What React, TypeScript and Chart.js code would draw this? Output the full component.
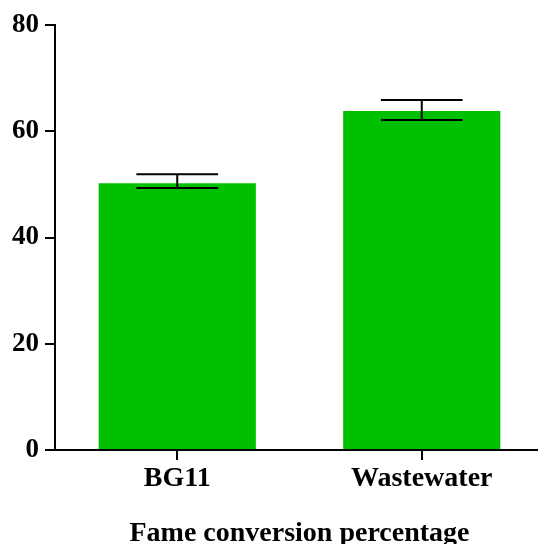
import React, { useEffect, useRef } from "react";
import { Chart, registerables } from "chart.js";

Chart.register(...registerables);

const categories = ["BG11", "Wastewater"];
const means = [50.2, 63.8];
const errUpper = [51.9, 65.9];
const errLower = [49.3, 62.1];
const yTicks = [0, 20, 40, 60, 80];
const xTitle = "Fame conversion percentage";

const FONT = "'Liberation Serif', 'Times New Roman', serif";

const errorBarPlugin = {
  id: "errorBars",
  afterDatasetsDraw(chart: any) {
    const { ctx } = chart;
    const meta = chart.getDatasetMeta(0);
    const yScale = chart.scales.y;
    ctx.save();
    ctx.strokeStyle = "#000";
    ctx.lineWidth = 2;
    meta.data.forEach((bar: any, i: number) => {
      const x = bar.x;
      const capHalf = bar.width * 0.26;
      const yHi = yScale.getPixelForValue(errUpper[i]);
      const yLo = yScale.getPixelForValue(errLower[i]);
      ctx.beginPath();
      ctx.moveTo(x, yHi);
      ctx.lineTo(x, yLo);
      ctx.moveTo(x - capHalf, yHi);
      ctx.lineTo(x + capHalf, yHi);
      ctx.moveTo(x - capHalf, yLo);
      ctx.lineTo(x + capHalf, yLo);
      ctx.stroke();
    });
    ctx.restore();
  },
};

export default function App() {
  const ref = useRef<HTMLCanvasElement | null>(null);
  useEffect(() => {
    if (!ref.current) return;
    const chart = new Chart(ref.current, {
      type: "bar",
      data: {
        labels: categories,
        datasets: [
          {
            data: means,
            backgroundColor: "#00C000",
            borderWidth: 0,
            categoryPercentage: 1,
            barPercentage: 0.643,
          },
        ],
      },
      options: {
        animation: false,
        responsive: false,
        devicePixelRatio: 1,
        layout: { padding: { top: 25, left: 0, right: 0, bottom: 0 } },
        plugins: { legend: { display: false }, tooltip: { enabled: false }, title: { display: false } },
        scales: {
          x: {
            offset: true,
            grid: {
              offset: false,
              drawOnChartArea: false,
              drawTicks: true,
              tickLength: 10,
              tickColor: "#000",
              lineWidth: 2,
            },
            border: { display: true, color: "#000", width: 2 },
            ticks: {
              color: "#000",
              padding: 2,
              font: { family: FONT, size: 28, weight: "bold" },
              maxRotation: 0,
            },
            title: {
              display: true,
              text: xTitle,
              color: "#000",
              padding: 0,
              font: { family: FONT, size: 28, weight: "bold" },
            },
            afterFit(scale: any) {
              scale.height = 101;
            },
          },
          y: {
            min: 0,
            max: 80,
            afterBuildTicks(scale: any) {
              scale.ticks = yTicks.map((v) => ({ value: v }));
            },
            grid: {
              drawOnChartArea: false,
              drawTicks: true,
              tickLength: 10,
              tickColor: "#000",
              lineWidth: 2,
            },
            border: { display: true, color: "#000", width: 2 },
            ticks: {
              color: "#000",
              padding: 6,
              font: { family: FONT, size: 27, weight: "bold" },
            },
            afterFit(scale: any) {
              scale.width = 55;
            },
          },
        },
      },
      plugins: [errorBarPlugin],
    });
    return () => chart.destroy();
  }, []);
  return (
    <div
      style={{
        position: "fixed",
        left: 0,
        top: 0,
        width: 538,
        height: 544,
        overflow: "hidden",
        background: "#fff",
      }}
    >
      <canvas ref={ref} width={544} height={551} style={{ display: "block" }} />
    </div>
  );
}
